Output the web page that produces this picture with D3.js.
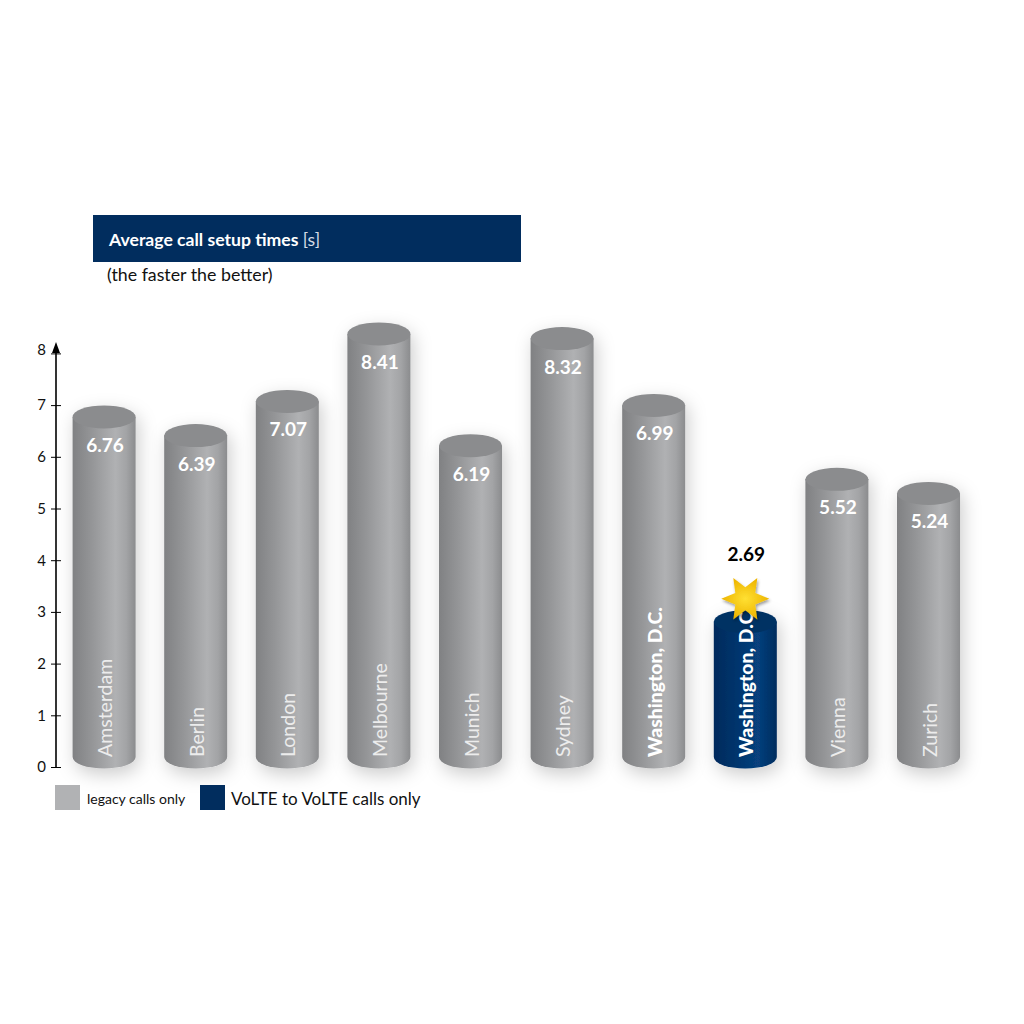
<!DOCTYPE html>
<html>
<head>
<meta charset="utf-8">
<script src="https://d3js.org/d3.v7.min.js"></script>
<style>
  html, body { margin: 0; padding: 0; background: #fff; }
  svg { display: block; }
  text { font-family: Lato, "Open Sans", sans-serif; }
</style>
</head>
<body>
<svg width="1024" height="1024"></svg>
<script>
// Values
const cities = ["Amsterdam", "Berlin", "London", "Melbourne", "Munich", "Sydney", "Washington, D.C.", "Washington, D.C.", "Vienna", "Zurich"];
const setupTimes = [6.76, 6.39, 7.07, 8.41, 6.19, 8.32, 6.99, 2.69, 5.52, 5.24];
const callTypes = ["legacy", "legacy", "legacy", "legacy", "legacy", "legacy", "legacy", "volte", "legacy", "legacy"];
const boldCities = [6, 7];
const axisTicks = [0, 1, 2, 3, 4, 5, 6, 7, 8];
const legendLabels = ["legacy calls only", "VoLTE to VoLTE calls only"];

const svg = d3.select("svg");
const defs = svg.append("defs");

// Gradients for the cylinder sides
function sideGradient(id, stops) {
  const g = defs.append("linearGradient").attr("id", id);
  stops.forEach(s => g.append("stop").attr("offset", s[0]).attr("stop-color", s[1]));
}
sideGradient("side-legacy", [[0, "#808183"], [0.3, "#949597"], [0.68, "#b0b1b3"], [0.85, "#a3a4a6"], [1, "#8b8c8e"]]);
sideGradient("side-volte", [[0, "#012a5c"], [0.35, "#03346c"], [0.7, "#07407d"], [1, "#022c5e"]]);

const shadow = defs.append("filter").attr("id", "shadow")
  .attr("x", "-50%").attr("y", "-15%").attr("width", "200%").attr("height", "135%");
shadow.append("feDropShadow").attr("dx", 3).attr("dy", 6).attr("stdDeviation", 9)
  .attr("flood-color", "#000").attr("flood-opacity", 0.2);

const starShadow = defs.append("filter").attr("id", "star-shadow");
starShadow.append("feDropShadow").attr("dx", 1).attr("dy", 2).attr("stdDeviation", 1.5)
  .attr("flood-color", "#000").attr("flood-opacity", 0.4);

// Scales: the bars sit on their own baseline, above the axis zero
const x = d3.scaleBand()
  .domain(d3.range(cities.length))
  .range([58.3, 974.3])
  .paddingInner(0.312)
  .paddingOuter(0.156);
const yBar = d3.scaleLinear().domain([0, 8]).range([757, 354.6]);
const yAxis = d3.scaleLinear().domain([0, 8]).range([767, 353.4]);
const ry = 11.5;

// Title
svg.append("rect").attr("x", 93).attr("y", 215).attr("width", 428).attr("height", 47).attr("fill", "#012d5e");
const title = svg.append("text").attr("x", 109).attr("y", 245.5).attr("fill", "#fff").attr("font-size", 17.6);
title.append("tspan").attr("font-weight", 700).text("Average call setup times ");
title.append("tspan").attr("font-weight", 400).attr("fill", "#d5dce6").text("[s]");
svg.append("text").attr("x", 107).attr("y", 281).attr("fill", "#111").attr("font-size", 17.8).text("(the faster the better)");

// Axis
const axisG = svg.append("g")
  .attr("transform", "translate(56,0)")
  .call(d3.axisLeft(yAxis).tickValues(axisTicks).tickFormat(d3.format("d")).tickSize(0).tickPadding(10));
axisG.select(".domain").remove();
axisG.selectAll(".tick text").attr("font-size", 15).attr("fill", "#111").style("font-family", "Lato, sans-serif");
axisG.selectAll(".tick").append("line").attr("x1", -5).attr("x2", 5).attr("stroke", "#000").attr("stroke-width", 1);
axisG.selectAll(".tick").filter(d => d === 8).select("line").remove();
axisG.selectAll(".tick").filter(d => d === 8).select("text").attr("y", -4);
svg.append("line").attr("x1", 56).attr("x2", 56).attr("y1", 767).attr("y2", 350).attr("stroke", "#000").attr("stroke-width", 1.6);
svg.append("path").attr("d", "M56,342 L60,353 L52,353 Z").attr("fill", "#000");

// Cylinders
function sidePath(i) {
  const left = x(i), w = x.bandwidth(), top = yBar(setupTimes[i]), base = yBar(0);
  const rx = w / 2;
  return `M${left},${top} L${left},${base} A${rx},${ry} 0 0 0 ${left + w},${base} L${left + w},${top} Z`;
}

const bars = svg.append("g").selectAll("g")
  .data(d3.range(cities.length))
  .enter()
  .append("g");

bars.append("g")
  .attr("filter", "url(#shadow)")
  .call(g => {
    g.append("path")
      .attr("d", sidePath)
      .attr("fill", i => callTypes[i] === "volte" ? "url(#side-volte)" : "url(#side-legacy)");
    g.append("ellipse")
      .attr("cx", i => x(i) + x.bandwidth() / 2)
      .attr("cy", i => yBar(setupTimes[i]))
      .attr("rx", x.bandwidth() / 2)
      .attr("ry", ry)
      .attr("fill", i => callTypes[i] === "volte" ? "#063264" : "#8b8c8e");
  });

// City names run up the cylinders
bars.append("text")
  .attr("transform", i => `translate(${x(i) + x.bandwidth() / 2 + 8},${yBar(0)}) rotate(-90)`)
  .attr("fill", i => boldCities.includes(i) ? "#fff" : "#ececec")
  .attr("font-size", i => boldCities.includes(i) ? 19.4 : 19.5)
  .attr("font-weight", i => boldCities.includes(i) ? 900 : 400)
  .text(i => cities[i]);

// Value labels, the VoLTE one floats above the star
bars.append("text")
  .attr("x", i => x(i) + x.bandwidth() / 2 + 1)
  .attr("y", i => callTypes[i] === "volte" ? yBar(setupTimes[i]) - 61 : yBar(setupTimes[i]) + 35)
  .attr("text-anchor", "middle")
  .attr("fill", i => callTypes[i] === "volte" ? "#000" : "#fff")
  .attr("font-size", 19)
  .attr("font-weight", 700)
  .text(i => setupTimes[i].toFixed(2));

// Star on the winning bar
const best = callTypes.indexOf("volte");
const starAngles = d3.range(12).map(k => k * Math.PI / 6 + Math.PI / 6);
const star = d3.lineRadial()
  .angle(a => a)
  .radius((a, k) => k % 2 === 0 ? 24 : 11.5)
  .curve(d3.curveLinearClosed);
const starGrad = defs.append("radialGradient").attr("id", "star-fill");
starGrad.append("stop").attr("offset", 0).attr("stop-color", "#ffe033");
starGrad.append("stop").attr("offset", 1).attr("stop-color", "#eeb500");
svg.append("path")
  .attr("transform", `translate(${x(best) + x.bandwidth() / 2},${yBar(setupTimes[best]) - 23})`)
  .attr("d", star(starAngles))
  .attr("fill", "url(#star-fill)")
  .attr("filter", "url(#star-shadow)");

// Legend
svg.append("rect").attr("x", 55).attr("y", 785).attr("width", 25).attr("height", 25).attr("fill", "#b1b2b4");
svg.append("text").attr("x", 87).attr("y", 804).attr("font-size", 14).attr("fill", "#111").text(legendLabels[0]);
svg.append("rect").attr("x", 200).attr("y", 785).attr("width", 25).attr("height", 25).attr("fill", "#012d5e");
svg.append("text").attr("x", 231).attr("y", 805).attr("font-size", 17).attr("fill", "#111").text(legendLabels[1]);
</script>
</body>
</html>
